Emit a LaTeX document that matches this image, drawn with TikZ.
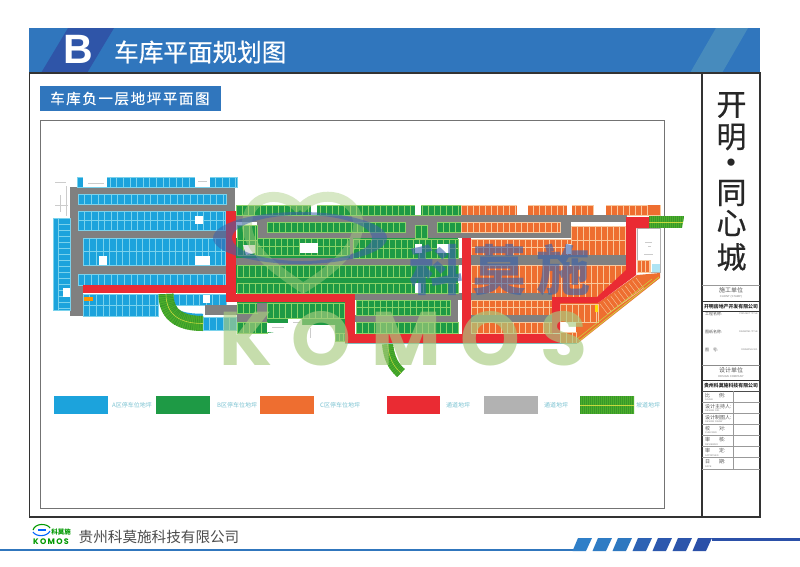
\documentclass[tikz,border=0pt]{standalone}
\usepackage{fontspec}
\setmainfont{Noto Sans CJK SC}
\newfontfamily\latinb{Liberation Sans}[BoldFont=Liberation Sans Bold]
\newfontfamily\komosfont{Poppins}[BoldFont=* Bold]
\usetikzlibrary{calc}
\definecolor{barblue}{HTML}{3076BD}
\definecolor{tabblue}{HTML}{2F55A8}
\definecolor{zA}{HTML}{1CA3DC}\definecolor{lA}{HTML}{7AD2EC}
\definecolor{zB}{HTML}{1E9A45}\definecolor{lB}{HTML}{8AD268}
\definecolor{zC}{HTML}{EE6E30}\definecolor{lC}{HTML}{F9C89C}
\definecolor{road}{HTML}{808080}
\definecolor{redway}{HTML}{EA2B33}
\definecolor{legcol}{HTML}{7CC3D2}
\definecolor{wgreen}{HTML}{A8CC80}
\definecolor{wblue}{HTML}{3A62AC}
\definecolor{rampg}{HTML}{4CAE2A}
\definecolor{rampd}{HTML}{38982A}
\definecolor{rampy}{HTML}{C8D840}
\definecolor{panel}{HTML}{555555}
\definecolor{tabA}{HTML}{2F7FC8}\definecolor{tabB}{HTML}{2F7CC4}\definecolor{tabC}{HTML}{2E78C0}
\definecolor{tabD}{HTML}{2D62B4}\definecolor{tabE}{HTML}{2C58AE}\definecolor{tabF}{HTML}{2C55AB}\definecolor{tabG}{HTML}{2B50A8}
\newcommand\pkrow[6][6]{%
  \fill[z#2] (#3,#4) rectangle (#5,#6);
  \pgfmathsetmacro\pknx{#3+#1}%
  \foreach \xx in {#3,\pknx,...,#5} \draw[l#2,line width=.3pt] (\xx,#4) -- (\xx,#6);
  \draw[l#2,line width=.45pt] (#3,#4) rectangle (#5,#6);
}
\newcommand\pkdbl[6][6]{%
  \pkrow[#1]{#2}{#3}{#4}{#5}{\fpeval{(#4+#6)/2}}
  \pkrow[#1]{#2}{#3}{\fpeval{(#4+#6)/2}}{#5}{#6}
}
\newcommand\wpatch[4]{\fill[white] (#1,#2) rectangle (#3,#4);}
\tikzset{
  rowlabel/.style={anchor=west,inner sep=0,text=panel,font=\fontsize{5}{5}\selectfont},
  tinyen/.style={anchor=west,inner sep=0,text=gray,font=\latinb\fontsize{2.4}{3}\selectfont},
  legtext/.style={anchor=west,inner sep=0,text=legcol,font=\fontsize{6}{6}\selectfont},
  paneltext/.style={inner sep=0,text=panel}
}
\begin{document}
\begin{tikzpicture}[x=1pt,y=-1pt]
\useasboundingbox (0,0) rectangle (800,566);
\fill[white] (0,0) rectangle (800,566);
% header
\fill[barblue] (29,28) rectangle (760,73);
\fill[tabblue] (68,28) -- (114,28) -- (87,73) -- (41,73) -- cycle;
\fill[cyan!30!barblue] (716,28) -- (748,28) -- (722,73) -- (690,73) -- cycle;
\node[inner sep=0,text=white] (letterB) at (78,49) {\latinb\bfseries\fontsize{41}{41}\selectfont B};
\node[inner sep=0,anchor=west,text=white] (maintitle) at (114,52) {\fontsize{24.6}{26}\selectfont\addfontfeature{FakeBold=.6}车库平面规划图};
% frames
\draw[line width=1.1pt,draw=black!80] (29.5,73) rectangle (760,517);
\draw[line width=1.1pt,draw=black!80] (702,73) -- (702,517);
\draw[line width=.8pt,draw=black!55] (40,120) rectangle (664,508.5);
\fill[barblue] (40,86) rectangle (221,111);
\node[inner sep=0,anchor=west,text=white] (subtitle) at (50,98.5) {\fontsize{14.5}{15}\selectfont\addfontfeature{LetterSpace=11,FakeBold=.6}车库负一层地坪平面图};
% right panel
\foreach \yy/\tt [count=\i] in {105/开,137/明,193/同,223/心,257/城}
  \node[inner sep=0,text=black!85] (ttl\i) at (731.5,\yy) {\fontsize{30}{30}\selectfont\addfontfeature{FakeBold=.6}\tt};
\node[inner sep=0,text=black!85] (ttldot) at (731.5,166) {\bfseries\fontsize{26}{26}\selectfont ·};
\draw[black!40,line width=.5pt] (702,285) -- (760,285);
\node[paneltext] (client) at (731,290.5) {\fontsize{6}{6}\selectfont 施工单位};
\node[inner sep=0,text=gray] (clienten) at (731,296.5) {\latinb\fontsize{2.8}{3}\selectfont CLIENT (STAMP)};
\draw[black!80,line width=.7pt] (702,301.5) -- (760,301.5);
\node[inner sep=0,text=black!85] (company1) at (731,306.5) {\fontsize{4.9}{5}\selectfont\bfseries 开明房地产开发有限公司};
\draw[black!80,line width=.7pt] (702,311) -- (760,311);
\node[rowlabel,font=\fontsize{4}{4}\selectfont] (r1) at (705,314) {工程名称:};
\node[tinyen,anchor=east] (r1e) at (758,314) {PROJECT TITLE};
\node[rowlabel,font=\fontsize{4}{4}\selectfont] (r2) at (705,332) {图纸名称:};
\node[tinyen,anchor=east] (r2e) at (758,332) {DRAWING TITLE};
\node[rowlabel,font=\fontsize{4}{4}\selectfont] (r3) at (705,350) {图\quad 号:};
\node[tinyen,anchor=east] (r3e) at (758,350) {DRAWING NO.};
\draw[black!45,line width=.5pt] (702,365) -- (760,365);
\node[paneltext] (design) at (731,370.5) {\fontsize{6}{6}\selectfont 设计单位};
\node[inner sep=0,text=gray] (designen) at (731,376.5) {\latinb\fontsize{2.8}{3}\selectfont DESIGN COMPANY};
\draw[black!80,line width=.7pt] (702,380.5) -- (760,380.5);
\node[inner sep=0,text=black!85] (company2) at (731,386) {\fontsize{4.9}{5}\selectfont\bfseries 贵州科莫施科技有限公司};
\draw[black!70,line width=.6pt] (702,391) -- (760,391);
\foreach \yy in {402.3,413.3,424.3,435.7,446.7,457.7,469}
  \draw[black!40,line width=.5pt] (702,\yy) -- (760,\yy);
\draw[black!40,line width=.5pt] (733,391) -- (733,469);
\foreach \yy/\tt/\ee [count=\i] in {395.5/{比\hspace{9pt}例:}/SCALE,406.7/{设计主持人:}/DESIGN DIR.,417.7/{设计制图人:}/DESIGN DRAW,428.9/{校\hspace{9pt}对:}/CHECKED,440/{审\hspace{9pt}核:}/REVIEWED,451/{审\hspace{9pt}定:}/APPROVED,462/{日\hspace{9pt}期:}/DATE}{
  \node[rowlabel] (tb\i) at (705,\yy) {\tt};
  \node[tinyen] (te\i) at (705,\yy+4.2) {\ee};
}
% ---------- Zone A ----------
\fill[road] (70,187) rectangle (235,211);
\fill[road] (70,187) rectangle (226,293);
\fill[road] (70,293) rectangle (83,316);
\wpatch{53}{177}{70}{218}
\draw[gray!40,line width=.25pt] (55,182) -- (66,182) (60,195) -- (60,212) (55,205) -- (68,205) (66,186) -- (66,216);
\pkrow[6.6]{A}{77}{177}{237}{187}
\wpatch{83}{177}{107}{187}
\wpatch{195}{177}{210}{187}
\draw[gray!40,line width=.25pt] (88,183) -- (104,183) (198,181) -- (207,181);
\pkrow[6.6]{A}{78}{194}{226}{204}
\pkdbl[6.6]{A}{78}{211}{225}{230}
\wpatch{195}{216}{203}{224}
\pkdbl[6.6]{A}{83}{238}{225}{265}
\wpatch{99}{256}{107}{265}
\wpatch{195}{256}{210}{265}
\pkrow[6.6]{A}{78}{274}{225}{285}
\pkdbl[6.6]{A}{83}{294}{158}{316}
\pkrow[6.6]{A}{173}{294}{226}{305}
\wpatch{203}{295}{210}{303}
\fill[road] (205,305) rectangle (237,315);
\pkrow[6.6]{A}{203}{317}{237}{330}
% left strip
\fill[zA] (53,218) rectangle (70,310);
\draw[lA,line width=.4pt] (53,218) rectangle (70,310) (58,218) -- (58,310);
\foreach \yy in {224,230,...,308} \draw[lA,line width=.35pt] (58,\yy) -- (70,\yy);
\wpatch{63}{288}{70}{297}
\fill[orange!85!yellow] (84,297) rectangle (93,301);
% curved ramp A
\draw[zA,line width=2.5pt] (174.5,305) .. controls (175,312) and (185,315) .. (203,315);
\draw[rampg,line width=15pt] (166,294) .. controls (166,315) and (180,323.5) .. (203,323.5);
\draw[rampd,line width=15pt,dash pattern=on .7pt off 1.3pt] (166,294) .. controls (166,315) and (180,323.5) .. (203,323.5);
\draw[rampy,line width=.6pt] (166,294) .. controls (166,315) and (180,323.5) .. (203,323.5);
% ---------- Zone B ----------
\fill[road] (236,215) rectangle (463,222);
\fill[road] (257,222) rectangle (463,238);
\fill[road] (355,293) rectangle (463,300);
\fill[road] (355,315) rectangle (458,322);
\fill[road] (450,300) rectangle (458,322);
\fill[zB] (236,238) rectangle (458,293);
\fill[road] (236,258) rectangle (463,265);
\pkrow{B}{236}{205}{461}{215}
\wpatch{311}{205}{317}{215}
\wpatch{415}{205}{421}{215}
\pkrow{B}{267}{222}{405}{232}
\pkrow{B}{415}{225}{427}{238}
\pkrow{B}{437}{222}{463}{232}
\pkdbl{B}{237}{225}{257}{255}
\fill[black!10] (243,245) -- (255,245) -- (255,253) -- (246,255) -- cycle;
\pkdbl{B}{257}{238}{350}{255}
\wpatch{300}{243}{318}{253}
\pkdbl{B}{353}{239}{458}{258}
\fill[road] (350,238) rectangle (353,258);
\wpatch{415}{244}{422}{253}
\wpatch{437}{244}{450}{253}
\pkrow{B}{237}{265}{458}{277}
\pkrow{B}{237}{283}{458}{293}
\wpatch{415}{283}{421}{293}
\pkdbl{B}{356}{300}{450}{315}
\pkrow{B}{356}{322}{458}{333}
% lower left B
\fill[zB] (237,302) rectangle (345,333);
\fill[road] (237,313) rectangle (267,322);
\pkrow{B}{237}{303}{257}{313}
\fill[road] (257,303) rectangle (267,313);
\pkrow{B}{267}{303}{344}{318}
\pkrow{B}{237}{322}{267}{333}
\fill[white] (267,323) -- (288,323) -- (288,319) -- (302,319) -- (302,325) -- (335,325) -- (335,340) -- (267,332) -- cycle;
\draw[gray!40,line width=.25pt] (272,327) -- (284,327) (293,322) -- (300,322) (310,328) -- (310,338);
\pkrow[4]{B}{335}{333}{345}{341}
% ---------- Zone C ----------
\pkrow{C}{461}{205}{660}{215}
\wpatch{517}{205}{528}{215}
\wpatch{567}{205}{572}{215}
\wpatch{594}{205}{606}{215}
\fill[zC] (648,205) rectangle (660,215);
\fill[road] (461,215) rectangle (627,222);
\fill[road] (461,232) rectangle (571,238);
\fill[road] (560,222) rectangle (571,238);
\pkrow{C}{461}{222}{560}{232}
\fill[road] (463,238) rectangle (471,265);
\pkdbl{C}{471}{239}{571}{255}
\wpatch{566}{244}{572}{254}
\pkdbl{C}{571}{226}{627}{255}
\fill[road] (471,255) rectangle (627,265);
\begin{scope}
\clip (471,265) -- (627,265) -- (627,270) -- (597,298) -- (471,298) -- cycle;
\pkrow{C}{471}{265}{627}{283}
\pkrow{C}{471}{283}{627}{298}
\end{scope}
\fill[road] (471,293) rectangle (552,300);
\pkdbl{C}{471}{300}{552}{315}
\fill[road] (471,315) rectangle (552,322);
\pkrow{C}{471}{322}{552}{333}
% diagonal part
\fill[zC] (598,303) -- (637,275) -- (660,273) -- (660,278) -- (578,343) -- (560,343) -- (560,303) -- cycle;
\pkrow{C}{560}{304}{598}{322}
\foreach \s in {0,.1,...,1.01} \draw[lC,line width=.4pt] ($(600,304)+\s*(36,-26)$) -- ++(7.5,10);
\draw[lC,line width=.5pt] (607.5,314) -- (643.5,288);
\draw[rampy,line width=.7pt] (579,341) -- (659,277);
\draw[rampy,line width=.5pt] (577,339) -- (652,279);
\wpatch{560}{322}{576}{332}
\pkrow{C}{560}{332}{576}{343}
\fill[yellow!80!orange] (595,305) rectangle (598,312);
% white room top right
\wpatch{637}{228}{660}{272}
\draw[gray!60,line width=.3pt] (637,228) rectangle (660,272);
\draw[gray!40,line width=.25pt] (645,242) -- (652,242) (648,246) -- (651,246) (644,254) -- (653,254);
\pkrow[4]{C}{637}{260}{650}{272}
\fill[lA!60] (652,264) rectangle (660,272);
% top-right ramp
\begin{scope}
\clip (649,216) -- (684,216) -- (682,228) -- (649,228) -- cycle;
\fill[rampg] (649,216) rectangle (684,228);
\draw[rampd,line width=12pt,dash pattern=on .7pt off 1.3pt] (649,222) -- (684,222);
\draw[rampy,line width=.5pt] (649,222) -- (684,222);
\end{scope}
% bottom ramp
\draw[rampg,line width=11pt] (387.5,344) .. controls (389,358) and (393,366) .. (401,373);
\draw[rampd,line width=11pt,dash pattern=on .7pt off 1.3pt] (387.5,344) .. controls (389,358) and (393,366) .. (401,373);
\draw[rampy,line width=.5pt] (387.5,344) .. controls (389,358) and (393,366) .. (401,373);
% ---------- Red ways ----------
\fill[redway] (226,211) rectangle (236,302);
\fill[redway] (83,285) rectangle (236,293);
\fill[redway] (226,294) rectangle (355,302);
\fill[redway] (345,302) rectangle (355,343);
\fill[redway] (345,333.5) rectangle (560,342.5);
\fill[redway] (462,238) rectangle (471,334);
\fill[redway] (552,320) rectangle (560,333);
\fill[redway] (626,217) -- (649,217) -- (649,228) -- (636,228) -- (636,275) -- (598,303) -- (560,303) -- (560,333) -- (552,333) -- (552,297) -- (597,297) -- (626,270) -- cycle;
\draw[teal!50,line width=.4pt] (345,343) -- (577,343);
% ---------- Watermarks ----------
\draw[wgreen,opacity=.45,line width=10pt] (300,210) .. controls (285,190) and (250,192) .. (247,222) .. controls (245,250) and (280,272) .. (303,288) .. controls (330,272) and (362,245) .. (358,220) .. controls (352,192) and (315,190) .. (300,210);
\fill[wblue,opacity=.55,even odd rule] (300,238) ellipse [x radius=87,y radius=26] (302,238) ellipse [x radius=70,y radius=23];
\node[inner sep=0,text=wgreen,opacity=.65] (wmlatin) at (403,338.5) {\komosfont\bfseries\fontsize{76}{76}\selectfont\addfontfeature{LetterSpace=26}KOMOS};
\node[inner sep=0,text=wblue,opacity=.62] (wmcjk) at (500,270) {\bfseries\fontsize{54}{54}\selectfont\addfontfeature{LetterSpace=18}科莫施};
% ---------- Legend ----------
\fill[zA] (54,396) rectangle (107.5,414);
\fill[zB] (156,396) rectangle (210,414);
\fill[zC] (260,396) rectangle (314,414);
\fill[redway] (387,396) rectangle (440,414);
\fill[black!30] (484,396) rectangle (538,414);
\fill[rampg] (580,396) rectangle (634,414);
\draw[rampd,line width=18pt,dash pattern=on .7pt off 1.3pt] (580,405) -- (634,405);
\draw[rampy,line width=.8pt] (580,405) -- (634,405);
\node[legtext] (lg1) at (112,405) {A区停车位地坪};
\node[legtext] (lg2) at (217,405) {B区停车位地坪};
\node[legtext] (lg3) at (320,405) {C区停车位地坪};
\node[legtext] (lg4) at (446,405) {通道地坪};
\node[legtext] (lg5) at (544,405) {通道地坪};
\node[legtext] (lg6) at (636,405) {坡道地坪};
% ---------- Footer ----------
\draw[green!60!black,line width=1.1pt] (33,530) .. controls (35,523) and (47,523) .. (50,528);
\draw[blue!60!cyan,line width=1.1pt] (33,532) .. controls (36,537) and (47,537) .. (50,531);
\fill[blue!60!cyan] (38,529) rectangle (46,531);
\node[inner sep=0,text=green!60!black] (logocjk) at (61,532.5) {\bfseries\fontsize{6.5}{7}\selectfont 科莫施};
\node[inner sep=0,text=green!60!black] (logolatin) at (51,541.5) {\komosfont\bfseries\fontsize{8}{8}\selectfont\addfontfeature{LetterSpace=16}KOMOS};
\node[inner sep=0,anchor=west,text=black!70] (footer) at (78.5,537) {\fontsize{14.6}{15}\selectfont 贵州科莫施科技有限公司};
\draw[barblue,line width=1.4pt] (0,550) -- (578,550);
\foreach \xt/\cc in {578/tabA,598/tabB,618/tabC,638/tabD,658/tabE,678/tabF,698/tabG}
  \fill[\cc] (\xt,538) -- (\xt+14,538) -- (\xt+8,551) -- (\xt-5.5,551) -- cycle;
\fill[tabG] (712,538) rectangle (800,541);
\end{tikzpicture}
\end{document}
